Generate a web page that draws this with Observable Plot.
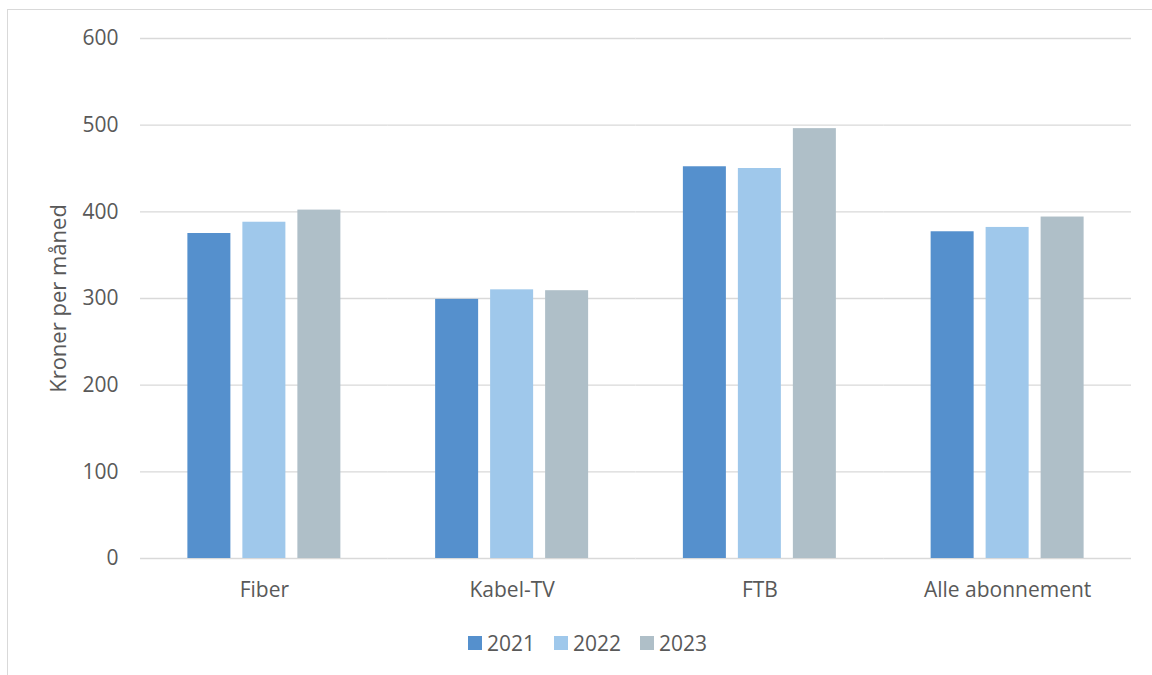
<!DOCTYPE html>
<html>
<head>
<meta charset="utf-8">
<script src="https://cdn.jsdelivr.net/npm/d3@7"></script>
<script src="https://cdn.jsdelivr.net/npm/@observablehq/plot@0.6"></script>
<style>
  html, body { margin: 0; padding: 0; background: #fff; }
  body { width: 1152px; height: 675px; position: relative; overflow: hidden; font-family: "Open Sans", sans-serif; }
  #frame { position: absolute; left: 7px; top: 9px; width: 1200px; height: 700px; border: 1px solid #d9d9d9; box-sizing: border-box; }
  #chart { position: absolute; left: 0; top: 0; }
  #legend { position: absolute; left: 468px; top: 628px; display: flex; gap: 19px; font-size: 21px; color: #595959; line-height: 30px; }
  #legend span.item { display: flex; align-items: center; gap: 5px; }
  #legend span.sw { width: 14px; height: 14px; display: inline-block; }
</style>
</head>
<body>
<div id="frame"></div>
<div id="chart"></div>
<div id="legend"></div>
<script>
const categories = ["Fiber", "Kabel-TV", "FTB", "Alle abonnement"];
const years = ["2021", "2022", "2023"];
const values2021 = [375, 299, 452, 377];
const values2022 = [388, 310, 450, 382];
const values2023 = [402, 309, 496, 394];
const colors = ["#5590CD", "#9FC8EB", "#AFBFC8"];
const yTicks = [0, 100, 200, 300, 400, 500, 600];

const series = [values2021, values2022, values2023];
const data = [];
categories.forEach((c, i) => years.forEach((y, j) => data.push({category: c, year: y, value: series[j][i]})));

const chart = Plot.plot({
  width: 1152,
  height: 620,
  marginLeft: 140,
  marginRight: 21,
  marginTop: 38,
  marginBottom: 62,
  style: {fontFamily: "Open Sans, sans-serif", fontSize: "21px", color: "#595959", background: "transparent", overflow: "visible"},
  fx: {domain: categories, padding: 0, round: false, label: null, axis: "bottom", tickSize: 0, tickPadding: 24},
  x: {domain: years, paddingInner: 0.218, paddingOuter: 0.8615, round: false, axis: null},
  y: {domain: [0, 600], ticks: yTicks, label: null, axis: null},
  color: {domain: years, range: colors},
  marks: [
    Plot.ruleY(yTicks, {stroke: "#d9d9d9", strokeWidth: 1.3, strokeOpacity: 1}),
    Plot.axisY({ticks: yTicks, tickSize: 0, tickPadding: 22, fontSize: 21, label: "Kroner per måned", labelAnchor: "center", labelArrow: "none", labelOffset: 90}),
    Plot.barY(data, {fx: "category", x: "year", y: "value", fill: "year"})
  ]
});
document.getElementById("chart").appendChild(chart);
// enlarge the y-axis label slightly
chart.querySelectorAll("g[aria-label='y-axis label'] text").forEach(t => t.setAttribute("font-size", "22"));

const legend = document.getElementById("legend");
years.forEach((y, i) => {
  const item = document.createElement("span");
  item.className = "item";
  const sw = document.createElement("span");
  sw.className = "sw";
  sw.style.background = colors[i];
  item.appendChild(sw);
  item.appendChild(document.createTextNode(y));
  legend.appendChild(item);
});
</script>
</body>
</html>
